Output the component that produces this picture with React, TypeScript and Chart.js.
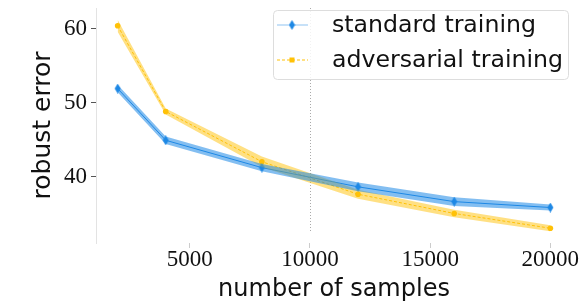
import { useEffect, useRef } from "react";
import { Chart, registerables } from "chart.js";

Chart.register(...registerables);

const samples = [2000, 4000, 8000, 12000, 16000, 20000];
const standardMean = [51.9, 44.9, 41.2, 38.6, 36.6, 35.8];
const standardSpread = [0.5, 0.5, 0.5, 0.6, 0.6, 0.4];
const adversarialMean = [60.4, 48.8, 42.0, 37.6, 35.0, 33.0];
const adversarialSpread = [0.8, 0.4, 0.7, 0.6, 0.5, 0.4];
const yTicks = [40, 50, 60];
const xTicks = [5000, 10000, 15000, 20000];
const markerLine = 10000;
const seriesNames = ["standard training", "adversarial training"];

const BLUE = "#1E88E5";
const BLUE_BAND = "rgba(30,136,229,0.55)";
const YELLOW = "#FFC107";
const YELLOW_BAND = "rgba(255,193,7,0.5)";
const SANS = "DejaVu Sans";
const SERIF = "Liberation Serif";

Chart.defaults.font.family = SERIF;

function makeDiamond(color: string) {
  const c = document.createElement("canvas");
  c.width = 7;
  c.height = 10;
  const ctx = c.getContext("2d")!;
  ctx.fillStyle = color;
  ctx.beginPath();
  ctx.moveTo(3.5, 0);
  ctx.lineTo(6.5, 5);
  ctx.lineTo(3.5, 10);
  ctx.lineTo(0.5, 5);
  ctx.closePath();
  ctx.fill();
  return c;
}

const pts = (vals: number[]) => samples.map((x, i) => ({ x, y: vals[i] }));

export default function App() {
  const ref = useRef<HTMLCanvasElement>(null);
  useEffect(() => {
    const diamond = makeDiamond(BLUE);
    const stdLo = standardMean.map((v, i) => v - standardSpread[i]);
    const stdHi = standardMean.map((v, i) => v + standardSpread[i]);
    const advLo = adversarialMean.map((v, i) => v - adversarialSpread[i]);
    const advHi = adversarialMean.map((v, i) => v + adversarialSpread[i]);

    const vline = {
      id: "vline",
      beforeDatasetsDraw(chart: any) {
        const { ctx, chartArea, scales } = chart;
        const x = Math.round(scales.x.getPixelForValue(markerLine)) + 0.5;
        ctx.save();
        ctx.strokeStyle = "#aaa";
        ctx.lineWidth = 1;
        ctx.setLineDash([1, 2]);
        ctx.beginPath();
        ctx.moveTo(x, chartArea.top);
        ctx.lineTo(x, chartArea.bottom - 12);
        ctx.stroke();
        ctx.restore();
      },
    };

    const legend = {
      id: "customLegend",
      afterDraw(chart: any) {
        const { ctx } = chart;
        const bx = 273.5, by = 10.5, bw = 295, bh = 69;
        ctx.save();
        ctx.fillStyle = "rgba(255,255,255,0.85)";
        ctx.strokeStyle = "#ddd";
        ctx.lineWidth = 1;
        ctx.beginPath();
        ctx.roundRect(bx, by, bw, bh, 4);
        ctx.fill();
        ctx.stroke();
        const y1 = 25, y2 = 60;
        ctx.strokeStyle = "rgba(30,136,229,0.25)";
        ctx.lineWidth = 2;
        ctx.beginPath();
        ctx.moveTo(277, y1);
        ctx.lineTo(308, y1);
        ctx.stroke();
        ctx.drawImage(diamond, 292 - 3.5, y1 - 5);
        ctx.strokeStyle = YELLOW;
        ctx.lineWidth = 1;
        ctx.setLineDash([3, 2]);
        ctx.beginPath();
        ctx.moveTo(277, y2);
        ctx.lineTo(308, y2);
        ctx.stroke();
        ctx.setLineDash([]);
        ctx.fillStyle = YELLOW;
        ctx.fillRect(289.5, y2 - 2.5, 5, 5);
        ctx.fillStyle = "#111";
        ctx.font = `23px ${SANS}`;
        ctx.textBaseline = "middle";
        ctx.textAlign = "left";
        const name0 = seriesNames[0];
        const name1 = seriesNames[1];
        const w1 = ctx.measureText(name1).width;
        const sx = 231 / w1;
        ctx.translate(332, 0);
        ctx.scale(sx, 1);
        ctx.fillText(name0, 0, y1 + 1);
        ctx.fillText(name1, 0, y2 + 1);
        ctx.restore();
      },
    };

    const chart = new Chart(ref.current!, {
      type: "line",
      data: {
        datasets: [
          { label: "std-lo", data: pts(stdLo), borderWidth: 0, pointRadius: 0, fill: false, borderColor: "transparent" },
          { label: "std-hi", data: pts(stdHi), borderWidth: 0, pointRadius: 0, fill: "-1", backgroundColor: BLUE_BAND, borderColor: "transparent" },
          { label: "adv-lo", data: pts(advLo), borderWidth: 0, pointRadius: 0, fill: false, borderColor: "transparent" },
          { label: "adv-hi", data: pts(advHi), borderWidth: 0, pointRadius: 0, fill: "-1", backgroundColor: YELLOW_BAND, borderColor: "transparent" },
          {
            label: seriesNames[0],
            data: pts(standardMean),
            borderColor: BLUE,
            borderWidth: 1,
            pointStyle: diamond as any,
            pointRadius: 4,
            fill: false,
          },
          {
            label: seriesNames[1],
            data: pts(adversarialMean),
            borderColor: YELLOW,
            backgroundColor: YELLOW,
            pointBackgroundColor: YELLOW,
            borderWidth: 1,
            borderDash: [3, 2],
            pointStyle: "circle",
            pointRadius: 2.8,
            pointBorderWidth: 0,
            fill: false,
          },
        ],
      },
      options: {
        animation: false,
        responsive: false,
        devicePixelRatio: 1,
        layout: { padding: { left: 0, top: 8, right: 8, bottom: 0 } },
        plugins: { legend: { display: false }, tooltip: { enabled: false } },
        scales: {
          x: {
            type: "linear",
            min: 1100,
            max: 20900,
            afterBuildTicks: (s: any) => {
              s.ticks = xTicks.map((v) => ({ value: v }));
            },
            afterFit: (s: any) => {
              s.height = 61;
              s.paddingLeft = 0;
              s.paddingRight = 0;
            },
            ticks: {
              font: { family: SERIF, size: 23, weight: "normal" },
              color: "#111",
              padding: -2,
              maxRotation: 0,
              autoSkip: false,
              callback: (v: any) => String(v),
            },
            grid: { drawOnChartArea: false, tickLength: 5, color: "#ccc" },
            border: { display: false },
            title: {
              display: true,
              text: "number of samples",
              font: { family: SANS, size: 24 },
              color: "#111",
              padding: { top: 0, bottom: 0 },
            },
          },
          y: {
            type: "linear",
            min: 31,
            max: 62.8,
            afterBuildTicks: (s: any) => {
              s.ticks = yTicks.map((v) => ({ value: v }));
            },
            afterFit: (s: any) => {
              s.width = 96;
              s.paddingTop = 0;
              s.paddingBottom = 0;
            },
            ticks: {
              font: { family: SERIF, size: 23, weight: "normal" },
              color: "#111",
              padding: 4,
            },
            grid: { drawOnChartArea: false, tickLength: 5, color: "#555" },
            border: { display: true, color: "#e3e3e3" },
            title: {
              display: true,
              text: "robust error",
              font: { family: SANS, size: 25 },
              color: "#111",
              padding: { top: 28, bottom: 0 },
            },
          },
        },
      },
      plugins: [vline, legend],
    });
    return () => chart.destroy();
  }, []);
  return (
    <div style={{ position: "fixed", left: 0, top: 0, width: 580, height: 304, background: "#fff" }}>
      <canvas ref={ref} width={580} height={304} />
    </div>
  );
}
